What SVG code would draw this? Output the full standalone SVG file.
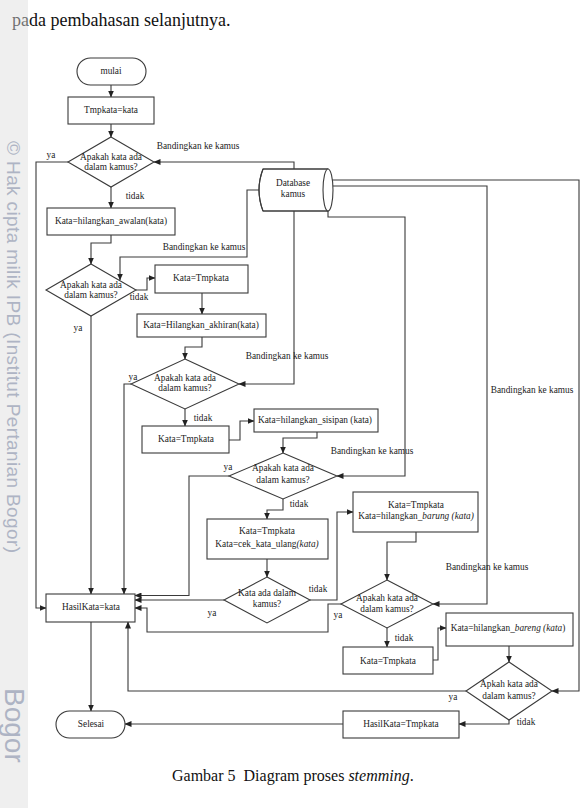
<svg xmlns="http://www.w3.org/2000/svg" width="586" height="808" viewBox="0 0 586 808">
<style>
.ln{fill:none;stroke:#3a3a3a;stroke-width:1.1}
.bx{fill:#fff;stroke:#3a3a3a;stroke-width:1.1}
.t{font-family:"Liberation Serif",serif;font-size:9.3px;fill:#222;text-anchor:middle}
.wm{font-family:"Liberation Sans",Arial,sans-serif;fill:#aeb4c4}
</style>
<defs>
<marker id="ah" markerUnits="userSpaceOnUse" markerWidth="7" markerHeight="6" refX="6.5" refY="3" orient="auto">
<path d="M0,0 L7,3 L0,6 z" fill="#222"/>
</marker>
</defs>
<rect width="586" height="808" fill="#fff"/>
<text x="12" y="26" font-family="Liberation Serif,serif" font-size="18" fill="#111">pada pembahasan selanjutnya.</text>
<rect x="0" y="0" width="28" height="808" fill="#dcdcdc" opacity="0.46"/>
<g id="watermark">
<text class="wm" font-size="19" transform="translate(7,141) rotate(90)" textLength="412" lengthAdjust="spacing">© Hak cipta milik IPB (Institut Pertanian Bogor)</text>
<text class="wm" font-size="28" transform="translate(5,688) rotate(90)">Bogor</text>
</g>

<g id="connectors" class="ln">
<path d="M111,85 V97" marker-end="url(#ah)"/>
<path d="M111,124 V137" marker-end="url(#ah)"/>
<path d="M68,162 H36 V608 H46" marker-end="url(#ah)"/>
<path d="M111,187 V208" marker-end="url(#ah)"/>
<path d="M111,235 V243 H91 V264" marker-end="url(#ah)"/>
<path d="M294,169 V162 H154" marker-end="url(#ah)"/>
<path d="M259,190 H247 V257 H120 V280" marker-end="url(#ah)"/>
<path d="M136,290 H147 V278 H155" marker-end="url(#ah)"/>
<path d="M91,316 V594" marker-end="url(#ah)"/>
<path d="M202,293 V314" marker-end="url(#ah)"/>
<path d="M202,337 V347 H185 V359" marker-end="url(#ah)"/>
<path d="M131,384 H124 V594" marker-end="url(#ah)"/>
<path d="M294,211 V384 H239" marker-end="url(#ah)"/>
<path d="M185,409 V426" marker-end="url(#ah)"/>
<path d="M229,440 H240 V421 H254" marker-end="url(#ah)"/>
<path d="M317,432 V438 H283 V453" marker-end="url(#ah)"/>
<path d="M229,476 H189 V595.5 H135" marker-end="url(#ah)"/>
<path d="M328,211 V217 H405 V476 H337" marker-end="url(#ah)"/>
<path d="M283,499 V510 H267 V519" marker-end="url(#ah)"/>
<path d="M267,559 V577" marker-end="url(#ah)"/>
<path d="M224,600 H135" marker-end="url(#ah)"/>
<path d="M310,600 H337 V512 H353" marker-end="url(#ah)"/>
<path d="M416,532 V542 H387 V580" marker-end="url(#ah)"/>
<path d="M342,604 H328 V632 H147 V608 H135" marker-end="url(#ah)"/>
<path d="M332.5,186 H487 V604 H433" marker-end="url(#ah)"/>
<path d="M387,628 V647" marker-end="url(#ah)"/>
<path d="M433,660 H438 V628 H446" marker-end="url(#ah)"/>
<path d="M509,646 V662" marker-end="url(#ah)"/>
<path d="M466,691 H128 V622" marker-end="url(#ah)"/>
<path d="M332,180 H579 V691 H552" marker-end="url(#ah)"/>
<path d="M509,720 V724 H459" marker-end="url(#ah)"/>
<path d="M91,622 V711" marker-end="url(#ah)"/>
<path d="M343,724 H125" marker-end="url(#ah)"/>
</g>

<g id="labels" class="t">
<text x="198" y="149">Bandingkan ke kamus</text>
<text x="51" y="158">ya</text>
<text x="135" y="199">tidak</text>
<text x="204" y="250">Bandingkan ke kamus</text>
<text x="139" y="300">tidak</text>
<text x="78" y="331">ya</text>
<text x="287" y="359">Bandingkan ke kamus</text>
<text x="133" y="380">ya</text>
<text x="203" y="421">tidak</text>
<text x="372" y="454">Bandingkan ke kamus</text>
<text x="228" y="470">ya</text>
<text x="299" y="507">tidak</text>
<text x="318" y="592">tidak</text>
<text x="212" y="616">ya</text>
<text x="487" y="570">Bandingkan ke kamus</text>
<text x="532" y="393">Bandingkan ke kamus</text>
<text x="338" y="618">ya</text>
<text x="404" y="641">tidak</text>
<text x="453" y="700">ya</text>
<text x="526" y="725">tidak</text>
</g>

<g id="mulai">
<rect class="bx" x="77" y="58" width="69" height="27" rx="13.5"/>
<text class="t" x="111" y="74" font-size="8.8">mulai</text>
</g>
<g id="tmpkata">
<rect class="bx" x="68" y="97" width="86" height="27"/>
<text class="t" x="111" y="113">Tmpkata=kata</text>
</g>
<g id="d1">
<polygon class="bx" points="111,137 154,162 111,187 68,162"/>
<text class="t" x="111" y="160">Apakah kata ada</text>
<text class="t" x="111" y="170">dalam kamus?</text>
</g>
<g id="database">
<path class="bx" d="M263,169 H328 V211 H263 Q255,190 263,169 z" stroke="none"/>
<path class="ln" d="M263,169 H328 M263,211 H328 M263,169 Q255,190 263,211"/>
<ellipse class="bx" cx="328" cy="190" rx="5" ry="21"/>
<text class="t" x="293" y="186">Database</text>
<text class="t" x="293" y="197">kamus</text>
</g>
<g id="awalan">
<rect class="bx" x="47" y="208" width="128" height="27"/>
<text class="t" x="111" y="224">Kata=hilangkan_awalan(kata)</text>
</g>
<g id="d2">
<polygon class="bx" points="91,264 136,290 91,316 46,290"/>
<text class="t" x="91" y="288">Apakah kata ada</text>
<text class="t" x="91" y="298">dalam kamus?</text>
</g>
<g id="tmp2">
<rect class="bx" x="155" y="265" width="93" height="28"/>
<text class="t" x="201" y="281">Kata=Tmpkata</text>
</g>
<g id="akhiran">
<rect class="bx" x="137" y="314" width="129" height="23"/>
<text class="t" x="201" y="328">Kata=Hilangkan_akhiran(kata)</text>
</g>
<g id="d3">
<polygon class="bx" points="185,359 239,384 185,409 131,384"/>
<text class="t" x="185" y="381">Apakah kata ada</text>
<text class="t" x="185" y="391">dalam kamus?</text>
</g>
<g id="tmp3">
<rect class="bx" x="142" y="426" width="87" height="27"/>
<text class="t" x="186" y="442">Kata=Tmpkata</text>
</g>
<g id="sisipan">
<rect class="bx" x="254" y="409" width="124" height="23"/>
<text class="t" x="315" y="423">Kata=hilangkan_sisipan (kata)</text>
</g>
<g id="d4">
<polygon class="bx" points="283,453 337,476 283,499 229,476"/>
<text class="t" x="283" y="471">Apakah kata ada</text>
<text class="t" x="283" y="483">dalam kamus?</text>
</g>
<g id="cek">
<rect class="bx" x="207" y="519" width="121" height="40"/>
<text class="t" x="267" y="534">Kata=Tmpkata</text>
<text class="t" x="267" y="547">Kata=cek_kata_ulang<tspan font-style="italic">(kata)</tspan></text>
</g>
<g id="d5">
<polygon class="bx" points="267,577 310,600 267,623 224,600"/>
<text class="t" x="267" y="596">Kata ada dalam</text>
<text class="t" x="267" y="607">kamus?</text>
</g>
<g id="barung">
<rect class="bx" x="353" y="492" width="125" height="40"/>
<text class="t" x="416" y="508">Kata=Tmpkata</text>
<text class="t" x="416" y="519">Kata=hilangkan_<tspan font-style="italic">barung (kata)</tspan></text>
</g>
<g id="d6">
<polygon class="bx" points="387,580 433,604 387,628 341,604"/>
<text class="t" x="387" y="601">Apakah kata ada</text>
<text class="t" x="387" y="612">dalam kamus?</text>
</g>
<g id="tmp4">
<rect class="bx" x="343" y="647" width="90" height="27"/>
<text class="t" x="388" y="664">Kata=Tmpkata</text>
</g>
<g id="bareng">
<rect class="bx" x="446" y="613" width="127" height="33"/>
<text class="t" x="508" y="631">Kata=hilangkan_<tspan font-style="italic">bareng (kata</tspan>)</text>
</g>
<g id="d7">
<polygon class="bx" points="509,662 552,691 509,720 466,691"/>
<text class="t" x="509" y="687">Apkah kata ada</text>
<text class="t" x="509" y="699">dalam kamus?</text>
</g>
<g id="hasilkata">
<rect class="bx" x="46" y="594" width="89" height="28"/>
<text class="t" x="91" y="610">HasilKata=kata</text>
</g>
<g id="selesai">
<rect class="bx" x="56" y="711" width="69" height="27" rx="13.5"/>
<text class="t" x="91" y="727" font-size="8.8">Selesai</text>
</g>
<g id="hasiltmp">
<rect class="bx" x="343" y="711" width="116" height="27"/>
<text class="t" x="401" y="727">HasilKata=Tmpkata</text>
</g>

<text x="172" y="781" font-family="Liberation Serif,serif" font-size="16" fill="#111" xml:space="preserve">Gambar 5  Diagram proses <tspan font-style="italic">stemming</tspan>.</text>
</svg>
